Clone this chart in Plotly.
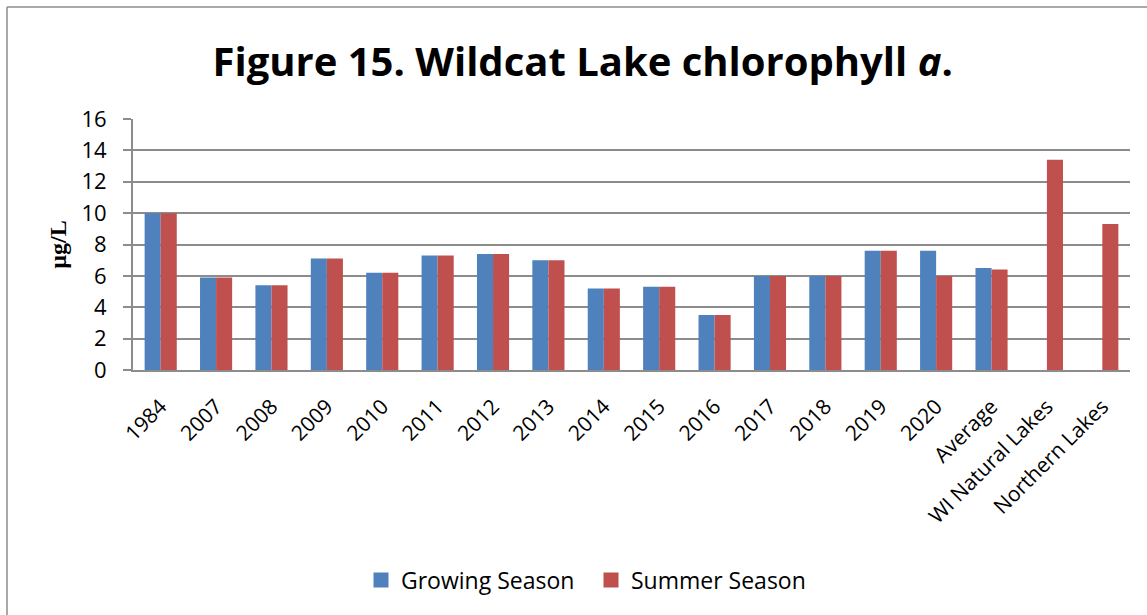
import plotly.graph_objects as go

categories = ["1984", "2007", "2008", "2009", "2010", "2011", "2012", "2013", "2014",
              "2015", "2016", "2017", "2018", "2019", "2020", "Average",
              "WI Natural Lakes", "Northern Lakes"]
growing_season = [10.0, 5.9, 5.4, 7.1, 6.2, 7.3, 7.4, 7.0, 5.2,
                  5.3, 3.5, 6.0, 6.0, 7.6, 7.6, 6.5, None, None]
summer_season = [10.0, 5.9, 5.4, 7.1, 6.2, 7.3, 7.4, 7.0, 5.2,
                 5.3, 3.5, 6.0, 6.0, 7.6, 6.0, 6.4, 13.4, 9.3]
y_ticks = [0, 2, 4, 6, 8, 10, 12, 14, 16]

FONT = "Open Sans"
BLUE = "#4F81BD"
RED = "#C0504D"
GRID = "#8c8c8c"

fig = go.Figure()
fig.add_trace(go.Bar(x=categories, y=growing_season, name="Growing Season",
                     marker=dict(color=BLUE, line=dict(width=0)), showlegend=False))
fig.add_trace(go.Bar(x=categories, y=summer_season, name="Summer Season",
                     marker=dict(color=RED, line=dict(width=0)), showlegend=False))

# legend entries drawn as square swatches
for name, color in [("Growing Season", BLUE), ("Summer Season", RED)]:
    fig.add_trace(go.Scatter(x=[None], y=[None], mode="markers", name=name,
                             marker=dict(symbol="square", size=15, color=color)))

fig.update_layout(
    width=1147, height=615,
    margin=dict(l=133, r=17, t=119, b=245),
    paper_bgcolor="white", plot_bgcolor="white",
    barmode="group", bargap=0.42, bargroupgap=0,
    title=dict(text="<b>Figure 15. Wildcat Lake chlorophyll <i>a</i>.</b>",
               x=0.508, xanchor="center", y=0.9, yanchor="middle",
               font=dict(family=FONT, size=40, color="black")),
    font=dict(family=FONT, color="black"),
    legend=dict(orientation="h", x=(382 - 21) / 1147, xanchor="left",
                xref="container", y=35 / 615, yref="container", yanchor="middle",
                font=dict(family=FONT, size=23, color="black"),
                itemwidth=30, traceorder="normal",
                entrywidth=185, entrywidthmode="pixels"),
    showlegend=True,
)

fig.update_yaxes(range=[0, 16], tickvals=y_ticks, showgrid=True,
                 gridcolor=GRID, gridwidth=2,
                 showline=True, linecolor=GRID, linewidth=2,
                 ticks="outside", ticklen=8, tickcolor=GRID, tickwidth=2,
                 ticklabelstandoff=12,
                 tickfont=dict(family=FONT, size=22, color="black"),
                 zeroline=False,
                 title=dict(text="<b>µg/L</b>", standoff=8,
                            font=dict(family="Liberation Serif", size=24, color="black")))
fig.update_xaxes(showline=True, linecolor=GRID, linewidth=2,
                 tickangle=-45, ticks="", ticklabelstandoff=14,
                 tickfont=dict(family=FONT, size=21, color="black"))

# outer chart frame (left and top edges)
fig.add_shape(type="line", xref="paper", yref="paper",
              x0=-126 / 997, x1=-126 / 997, y0=-245 / 251, y1=363 / 251,
              line=dict(color=GRID, width=1.5))
fig.add_shape(type="line", xref="paper", yref="paper",
              x0=-126 / 997, x1=1014 / 997, y0=363 / 251, y1=363 / 251,
              line=dict(color=GRID, width=1.5))

fig.write_html("out.html")
